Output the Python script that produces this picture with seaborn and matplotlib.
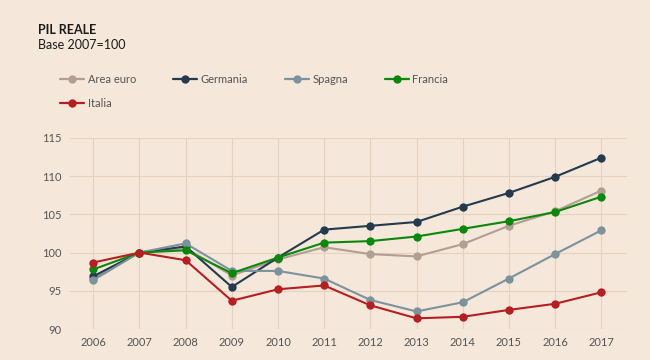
import pandas as pd
import numpy as np
import matplotlib.pyplot as plt
import seaborn as sns
from matplotlib.lines import Line2D

# Data (PIL reale, base 2007=100)
anni = [2006, 2007, 2008, 2009, 2010, 2011, 2012, 2013, 2014, 2015, 2016, 2017]
area_euro = [96.6, 100, 100.6, 97.0, 99.1, 100.7, 99.8, 99.5, 101.1, 103.5, 105.4, 108.1]
germania = [96.9, 100, 100.8, 95.5, 99.35, 103.0, 103.5, 104.0, 106.0, 107.8, 109.9, 112.4]
spagna = [96.4, 100, 101.2, 97.6, 97.6, 96.6, 93.8, 92.3, 93.5, 96.6, 99.8, 102.9]
francia = [97.8, 100, 100.3, 97.3, 99.35, 101.3, 101.5, 102.1, 103.1, 104.1, 105.3, 107.3]
italia = [98.7, 100, 99.0, 93.7, 95.2, 95.7, 93.1, 91.4, 91.6, 92.5, 93.3, 94.8]

paesi = ["Area euro", "Germania", "Spagna", "Francia", "Italia"]
colori = ["#b09f92", "#233a4f", "#7c929d", "#0b870b", "#b51f23"]

df = pd.DataFrame({"Area euro": area_euro, "Germania": germania, "Spagna": spagna,
                   "Francia": francia, "Italia": italia}, index=anni)
df_long = df.reset_index(names="anno").melt(id_vars="anno", var_name="paese", value_name="pil")

bg = "#f5e7d9"
sns.set_style("white")
plt.rcParams['font.family'] = ['Lato', 'DejaVu Sans']

fig = plt.figure(figsize=(6.5, 3.6), dpi=100, facecolor=bg)
ax = fig.add_axes([0.108, 0.086, 0.856, 0.531])
ax.set_facecolor(bg)

sns.lineplot(data=df_long, x="anno", y="pil", hue="paese", hue_order=paesi,
             palette=colori, marker="o", markersize=6, markeredgewidth=0,
             linewidth=1.5, legend=False, ax=ax)

ax.set_xlim(2005.5, 2017.55)
ax.set_ylim(90, 115)
ax.set_xticks(anni)
ax.set_yticks([90, 95, 100, 105, 110, 115])
ax.grid(True, color="#e3d2c0", linewidth=0.8)
ax.tick_params(length=0, labelsize=8, labelcolor="#555555", pad=6)
for s in ax.spines.values():
    s.set_visible(False)
ax.set_xlabel("")
ax.set_ylabel("")

# Titolo
fig.text(38/650, 1 - 30/360, "PIL REALE", fontsize=9, fontweight="bold", color="#1a1a1a", va="center")
fig.text(38/650, 1 - 45/360, "Base 2007=100", fontsize=9, color="#1a1a1a", va="center")

# Legenda (ordine per colonne: 4 colonne, 2 righe)
handles = [Line2D([], [], color=c, marker="o", markersize=6, markeredgewidth=0, linewidth=1.6)
           for c in colori]
ordine = [0, 4, 1, 2, 3]
leg = fig.legend([handles[i] for i in ordine], [paesi[i] for i in ordine],
                 loc="upper left", bbox_to_anchor=(50/650, 1 - 64/360),
                 ncol=4, frameon=False, fontsize=8, handlelength=2.2, handletextpad=0.3,
                 columnspacing=3.3, labelspacing=1.2, labelcolor="#555555")

plt.savefig("out.png", dpi=100, facecolor=bg)
